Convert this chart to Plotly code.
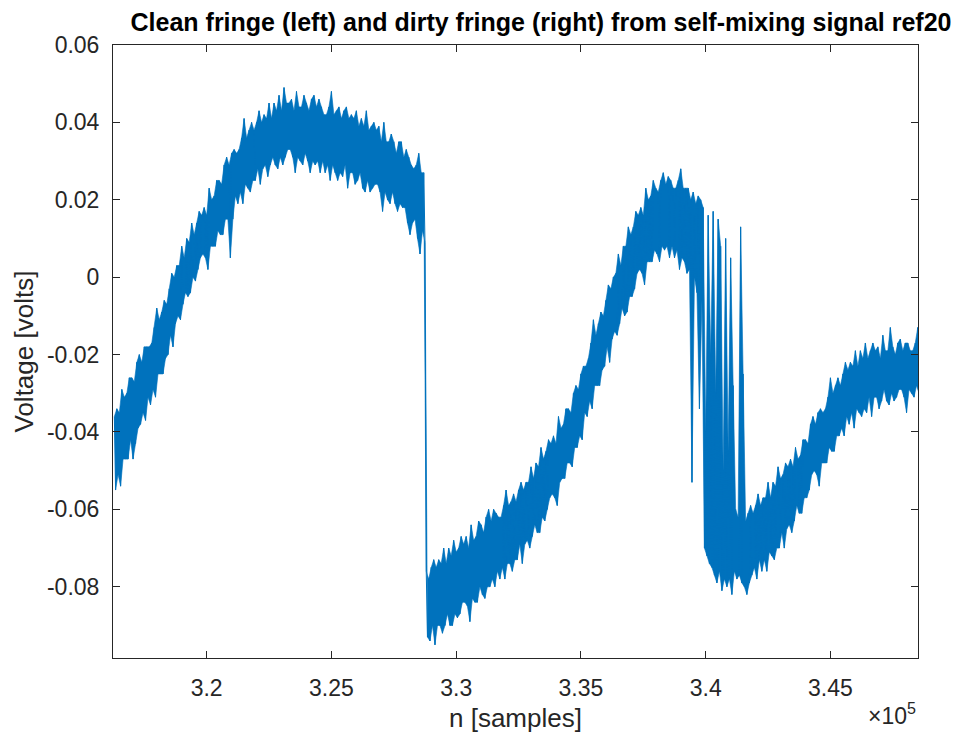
import plotly.graph_objects as go

# Self-mixing interferometer record ref20, samples 316 300 .. 348 700.
# The signal is stored as its local maxima (every 100 samples) and the
# local minima half-way between them (volts).
n_start = 316300
n_step = 100

peaks = [
    -0.036, -0.034, -0.035, -0.029, -0.031,
    -0.030, -0.026, -0.026, -0.027, -0.022,
    -0.020, -0.022, -0.018, -0.018, -0.018,
    -0.017, -0.013, -0.008, -0.011, -0.009,
    -0.006, -0.007, -0.003, 0.001, 0.000,
    0.003, 0.003, 0.008, 0.005, 0.010,
    0.009, 0.014, 0.011, 0.014, 0.017,
    0.016, 0.018, 0.016, 0.023, 0.020,
    0.021, 0.025, 0.025, 0.024, 0.029,
    0.031, 0.029, 0.032, 0.033, 0.032,
    0.033, 0.036, 0.041, 0.036, 0.038,
    0.040, 0.038, 0.040, 0.043, 0.040,
    0.042, 0.041, 0.045, 0.041, 0.045,
    0.043, 0.047, 0.043, 0.049, 0.045,
    0.045, 0.046, 0.043, 0.048, 0.044,
    0.044, 0.047, 0.045, 0.043, 0.046,
    0.047, 0.044, 0.046, 0.044, 0.042,
    0.042, 0.044, 0.048, 0.042, 0.043,
    0.044, 0.041, 0.043, 0.044, 0.041,
    0.042, 0.041, 0.043, 0.039, 0.041,
    0.039, 0.043, 0.038, 0.039, 0.040,
    0.038, 0.039, 0.035, 0.040, 0.035,
    0.035, 0.037, 0.035, 0.032, 0.035,
    0.035, 0.031, 0.033, 0.031, 0.029,
    0.028, 0.029, 0.032, 0.027, 0.027,
    -0.076, -0.078, -0.075, -0.073, -0.075,
    -0.073, -0.074, -0.070, -0.074, -0.070,
    -0.072, -0.068, -0.071, -0.070, -0.067,
    -0.069, -0.067, -0.070, -0.064, -0.068,
    -0.067, -0.063, -0.064, -0.066, -0.062,
    -0.060, -0.063, -0.060, -0.061, -0.062,
    -0.062, -0.059, -0.055, -0.059, -0.058,
    -0.056, -0.058, -0.055, -0.053, -0.055,
    -0.053, -0.053, -0.049, -0.052, -0.048,
    -0.049, -0.044, -0.047, -0.045, -0.042,
    -0.043, -0.041, -0.043, -0.036, -0.039,
    -0.038, -0.034, -0.034, -0.035, -0.030,
    -0.028, -0.029, -0.025, -0.023, -0.023,
    -0.021, -0.017, -0.011, -0.015, -0.012,
    -0.009, -0.010, -0.006, -0.002, -0.003,
    0.000, 0.001, 0.006, 0.003, 0.008,
    0.008, 0.013, 0.011, 0.013, 0.017,
    0.016, 0.018, 0.016, 0.023, 0.020,
    0.021, 0.025, 0.023, 0.022, 0.025,
    0.027, 0.024, 0.026, 0.025, 0.023,
    0.023, 0.025, 0.028, 0.023, 0.023,
    0.023, 0.020, 0.022, 0.019, 0.021,
    0.020, 0.018, -0.040, 0.016, -0.020,
    0.017, -0.030, 0.015, 0.008, -0.050,
    0.010, -0.045, 0.005, -0.028, -0.060,
    -0.062, 0.013, -0.025, -0.063, -0.061,
    -0.059, -0.061, -0.059, -0.056, -0.059,
    -0.057, -0.057, -0.053, -0.057, -0.053,
    -0.054, -0.049, -0.052, -0.051, -0.048,
    -0.049, -0.047, -0.049, -0.044, -0.047,
    -0.046, -0.042, -0.042, -0.043, -0.038,
    -0.036, -0.038, -0.035, -0.034, -0.035,
    -0.034, -0.031, -0.026, -0.030, -0.028,
    -0.026, -0.028, -0.025, -0.022, -0.024,
    -0.022, -0.023, -0.019, -0.023, -0.019,
    -0.021, -0.017, -0.021, -0.019, -0.017,
    -0.019, -0.018, -0.021, -0.015, -0.019,
    -0.019, -0.013, -0.018, -0.020, -0.017,
    -0.016, -0.019, -0.017, -0.017, -0.019,
    -0.019, -0.017, -0.013, -0.018, -0.017,
]

troughs = [
    -0.055, -0.051, -0.054, -0.047, -0.047,
    -0.047, -0.042, -0.047, -0.043, -0.039,
    -0.038, -0.035, -0.037, -0.031, -0.033,
    -0.029, -0.031, -0.025, -0.025, -0.025,
    -0.021, -0.020, -0.015, -0.018, -0.012,
    -0.010, -0.011, -0.007, -0.004, -0.005,
    -0.004, 0.000, -0.001, 0.002, 0.005,
    0.006, 0.005, 0.002, 0.008, 0.008,
    0.008, 0.012, 0.011, 0.011, 0.015,
    0.015, 0.005, 0.015, 0.021, 0.019,
    0.022, 0.019, 0.024, 0.023, 0.022,
    0.025, 0.025, 0.028, 0.024, 0.028,
    0.029, 0.026, 0.029, 0.031, 0.029,
    0.028, 0.031, 0.029, 0.031, 0.033,
    0.033, 0.031, 0.027, 0.031, 0.030,
    0.029, 0.032, 0.030, 0.027, 0.030,
    0.029, 0.030, 0.027, 0.030, 0.027,
    0.029, 0.025, 0.029, 0.027, 0.025,
    0.027, 0.026, 0.029, 0.023, 0.027,
    0.027, 0.024, 0.025, 0.027, 0.023,
    0.022, 0.025, 0.022, 0.023, 0.024,
    0.024, 0.022, 0.017, 0.022, 0.020,
    0.019, 0.022, 0.019, 0.017, 0.019,
    0.018, 0.018, 0.014, 0.011, 0.014,
    0.015, 0.010, 0.006, 0.012, 0.009,
    -0.093, -0.094, -0.090, -0.095, -0.090,
    -0.090, -0.092, -0.090, -0.087, -0.090,
    -0.090, -0.087, -0.088, -0.087, -0.084,
    -0.084, -0.085, -0.089, -0.083, -0.084,
    -0.084, -0.080, -0.082, -0.083, -0.080,
    -0.080, -0.078, -0.080, -0.076, -0.078,
    -0.075, -0.078, -0.074, -0.074, -0.076,
    -0.073, -0.073, -0.069, -0.074, -0.069,
    -0.068, -0.070, -0.067, -0.064, -0.066,
    -0.066, -0.062, -0.063, -0.060, -0.057,
    -0.056, -0.057, -0.059, -0.053, -0.052,
    -0.052, -0.048, -0.048, -0.049, -0.044,
    -0.044, -0.041, -0.042, -0.035, -0.036,
    -0.032, -0.034, -0.028, -0.028, -0.028,
    -0.024, -0.023, -0.018, -0.022, -0.016,
    -0.014, -0.015, -0.012, -0.008, -0.010,
    -0.009, -0.005, -0.005, -0.003, 0.001,
    0.002, 0.001, -0.002, 0.004, 0.004,
    0.004, 0.007, 0.006, 0.004, 0.008,
    0.007, 0.008, 0.005, 0.008, 0.005,
    0.007, 0.002, 0.005, 0.004, 0.001,
    0.002, -0.053, 0.000, -0.004, -0.034,
    -0.006, -0.070, -0.072, -0.074, -0.075,
    -0.077, -0.079, -0.076, -0.081, -0.078,
    -0.080, -0.078, -0.082, -0.076, -0.078,
    -0.077, -0.079, -0.080, -0.082, -0.079,
    -0.077, -0.075, -0.078, -0.073, -0.076,
    -0.073, -0.076, -0.071, -0.072, -0.073,
    -0.070, -0.070, -0.066, -0.070, -0.065,
    -0.064, -0.066, -0.063, -0.059, -0.061,
    -0.061, -0.057, -0.057, -0.055, -0.051,
    -0.050, -0.051, -0.054, -0.048, -0.048,
    -0.048, -0.044, -0.045, -0.045, -0.041,
    -0.041, -0.039, -0.041, -0.036, -0.038,
    -0.035, -0.039, -0.034, -0.035, -0.036,
    -0.034, -0.035, -0.031, -0.036, -0.031,
    -0.031, -0.034, -0.032, -0.029, -0.032,
    -0.033, -0.030, -0.032, -0.031, -0.029,
    -0.029, -0.031, -0.035, -0.029, -0.030,
    -0.031, -0.028, -0.030, -0.032, -0.029,
]

x_tick_vals = [320000, 325000, 330000, 335000, 340000, 345000]
x_tick_text = ["3.2", "3.25", "3.3", "3.35", "3.4", "3.45"]
y_tick_vals = [-0.08, -0.06, -0.04, -0.02, 0, 0.02, 0.04, 0.06]
y_tick_text = ["-0.08", "-0.06", "-0.04", "-0.02", "0", "0.02", "0.04", "0.06"]

# sample numbers of the maxima and of the minima that follow them
n_peak = [n_start + i * n_step for i in range(len(peaks))]
n_trough = [n + n_step // 2 for n in n_peak]

# interleave maxima and minima into one sample sequence
n_vals, v_vals = [], []
for n_hi, hi, n_lo, lo in zip(n_peak, peaks, n_trough, troughs):
    n_vals += [n_hi, n_lo]
    v_vals += [hi, lo]

BLUE = "#0072BD"
INK = "#262626"
FONT = "Liberation Sans, Arial, sans-serif"

fig = go.Figure()
# dense noise band: region swept between the maxima and the minima
fig.add_trace(go.Scatter(
    x=n_peak + n_trough[::-1], y=peaks + troughs[::-1],
    mode="lines", fill="toself", fillcolor=BLUE,
    line=dict(color=BLUE, width=0.6),
    hoverinfo="skip", showlegend=False,
))
# the sample trace itself
fig.add_trace(go.Scatter(
    x=n_vals, y=v_vals, mode="lines",
    line=dict(color=BLUE, width=1.0),
    hoverinfo="skip", showlegend=False,
))

axis_common = dict(
    showline=True, linecolor=INK, linewidth=1, mirror="ticks",
    ticks="inside", ticklen=7, tickcolor=INK, tickwidth=1,
    showgrid=False, zeroline=False, automargin=False,
    tickfont=dict(family=FONT, size=23, color=INK),
)

fig.update_layout(
    width=964, height=737,
    margin=dict(l=113, r=46, t=45, b=79),
    paper_bgcolor="white", plot_bgcolor="white",
    title=dict(
        text="<b>Clean fringe (left) and dirty fringe (right) from self-mixing signal ref20</b>",
        font=dict(family=FONT, size=25, color="#000000"),
        x=541 / 964, xref="container", xanchor="center",
        y=1 - 22 / 737, yref="container", yanchor="middle",
        pad=dict(l=0, r=0, t=0, b=0),
    ),
    xaxis=dict(range=[316246, 348509], tickvals=x_tick_vals, ticktext=x_tick_text,
               ticklabelstandoff=9, **axis_common),
    yaxis=dict(range=[-0.0984, 0.06], tickvals=y_tick_vals, ticktext=y_tick_text,
               ticklabelstandoff=8, **axis_common),
    annotations=[
        dict(text="n [samples]", xref="paper", yref="paper",
             x=0.5, y=(658 - 718) / 613, xanchor="center", yanchor="middle",
             showarrow=False, font=dict(family=FONT, size=26, color=INK)),
        dict(text="Voltage [volts]", xref="paper", yref="paper",
             x=(23 - 113) / 805, y=0.5, xanchor="center", yanchor="middle",
             textangle=-90, showarrow=False,
             font=dict(family=FONT, size=26, color=INK)),
        dict(text="×10<sup>5</sup>", xref="paper", yref="paper",
             x=1.0, y=(658 - 714) / 613, xanchor="right", yanchor="middle",
             showarrow=False, font=dict(family=FONT, size=23, color=INK)),
    ],
)

fig.write_html("out.html")
